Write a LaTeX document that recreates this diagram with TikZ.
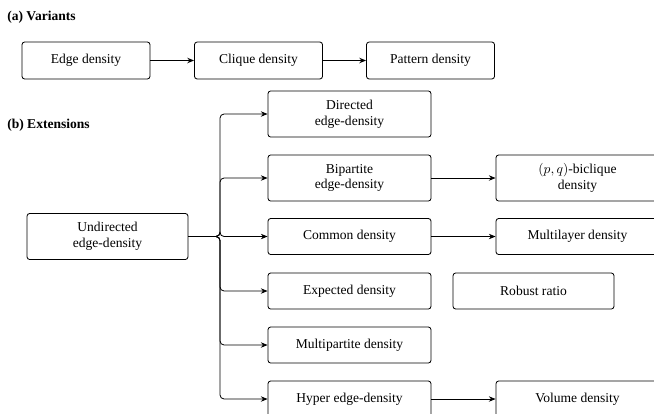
\documentclass[tikz,border=0pt]{standalone}
\usepackage{fontspec}
\setmainfont{Liberation Serif}
\usetikzlibrary{arrows.meta}
\begin{document}
\begin{tikzpicture}[x=0.738pt,y=-0.738pt,
  box/.style={draw, rounded corners=2pt, line width=0.6pt, align=center, inner sep=2pt, font=\fontsize{10}{11.5}\selectfont},
  vbox/.style={box, minimum width=94.5pt, minimum height=27.3pt},
  cbox/.style={box, minimum width=120.3pt, minimum height=26.6pt},
  tbox/.style={box, minimum width=120.3pt, minimum height=34pt},
  conn/.style={-{Stealth[length=5pt,width=4pt]}, line width=0.6pt},
  branch/.style={conn, rounded corners=3pt},
  lab/.style={anchor=west, font=\fontsize{10}{12}\selectfont\bfseries, inner sep=0pt}
]
\useasboundingbox (0,0) rectangle (654,413);
\node[lab] (la) at (7,17) {(a) Variants};
\node[lab] (lb) at (7,125) {(b) Extensions};

\node[vbox] (edge) at (86,60.5) {Edge density};
\node[vbox] (clique) at (258.5,60.5) {Clique density};
\node[vbox] (pattern) at (430.5,60.5) {Pattern density};
\draw[conn] (edge) -- (clique);
\draw[conn] (clique) -- (pattern);

\node[tbox, minimum width=118.8pt] (und) at (107.5,236.5) {Undirected\\edge-density};
\node[tbox] (dir) at (349.5,114) {Directed\\edge-density};
\node[tbox] (bip) at (349.5,178) {Bipartite\\edge-density};
\node[cbox] (com) at (349.5,236.5) {Common density};
\node[cbox] (exp) at (349.5,291) {Expected density};
\node[cbox] (mul) at (349.5,345) {Multipartite density};
\node[cbox] (hyp) at (349.5,399) {Hyper edge-density};

\node[tbox] (bic) at (577.5,178) {$(p,q)$-biclique\\density};
\node[cbox] (mlay) at (577.5,236.5) {Multilayer density};
\node[cbox, minimum width=118.8pt] (rob) at (533.5,291) {Robust ratio};
\node[cbox] (vol) at (577.5,399) {Volume density};

\coordinate (trunk) at (220,236.5);
\foreach \t in {dir,bip,com,exp,mul,hyp}
  \draw[branch] (und.east) -- (trunk) |- (\t.west);

\draw[conn] (bip) -- (bic);
\draw[conn] (com) -- (mlay);
\draw[conn] (hyp) -- (vol);
\end{tikzpicture}
\end{document}
